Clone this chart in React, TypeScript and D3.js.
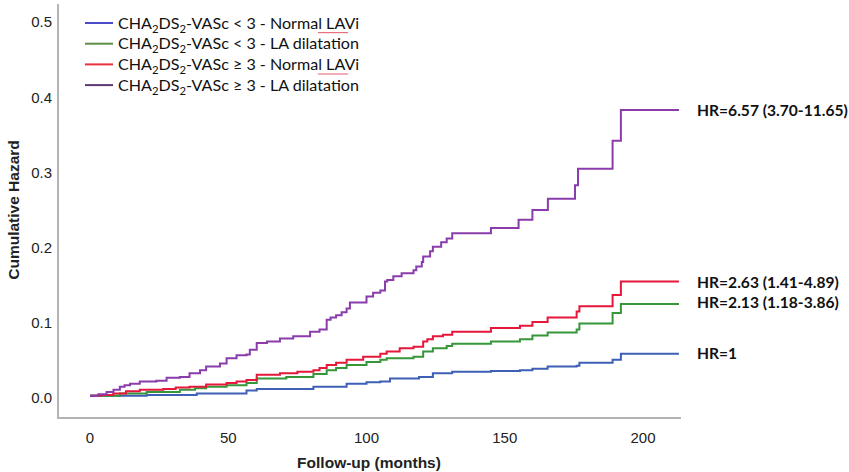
import React from "react";
import * as d3 from "d3";

type Pt = [number, number];

const xTicks = [0, 50, 100, 150, 200];
const yTicks = [0, 0.1, 0.2, 0.3, 0.4, 0.5];

// [month, cumulative hazard] step points
const lowNormal: Pt[] = [
  [0, 0.003], [20.5, 0.004], [38.6, 0.006], [56.6, 0.01], [60.3, 0.012], [80.8, 0.015],
  [92.8, 0.019], [100, 0.021], [105, 0.022], [108.5, 0.026], [119, 0.028], [124, 0.033],
  [131, 0.035], [145, 0.036], [155.5, 0.037], [160, 0.039], [165.5, 0.042], [176, 0.043],
  [177, 0.047], [189, 0.051], [192, 0.059], [213, 0.059],
];
const lowDilat: Pt[] = [
  [0, 0.003], [10.8, 0.006], [20.5, 0.008], [32.5, 0.011], [38, 0.013], [42, 0.015],
  [49.4, 0.017], [56.6, 0.02], [60.3, 0.026], [71, 0.028], [80.8, 0.032], [85.6, 0.037],
  [89, 0.04], [92.8, 0.044], [100, 0.048], [105, 0.051], [107.3, 0.053], [117, 0.055],
  [120.5, 0.062], [124, 0.066], [129, 0.069], [131, 0.072], [145, 0.075], [155.5, 0.078],
  [160, 0.083], [165.5, 0.087], [176, 0.091], [177, 0.099], [189, 0.113], [192, 0.125],
  [213, 0.125],
];
const highNormal: Pt[] = [
  [0, 0.003], [4, 0.004], [8.4, 0.006], [13, 0.009], [18, 0.011], [26.5, 0.012], [31, 0.014],
  [36, 0.015], [42, 0.018], [49.4, 0.02], [53, 0.022], [56.6, 0.024], [60.3, 0.031],
  [68.7, 0.033], [75, 0.035], [80.8, 0.037], [83, 0.04], [85.6, 0.044], [89, 0.047],
  [92.8, 0.051], [98.8, 0.055], [105, 0.059], [107.3, 0.062], [112, 0.066], [117, 0.068],
  [120.5, 0.075], [122, 0.078], [124, 0.082], [127.7, 0.084], [131, 0.088], [145, 0.093],
  [155.5, 0.096], [160, 0.101], [165.5, 0.107], [176, 0.115], [177, 0.122], [189, 0.137],
  [192, 0.155], [213, 0.155],
];
const highDilat: Pt[] = [
  [0, 0.003], [3, 0.005], [6, 0.008], [8.5, 0.011], [10.8, 0.015], [12.5, 0.017], [14.5, 0.019],
  [18, 0.022], [24, 0.023], [27.7, 0.027], [32.5, 0.028], [36, 0.033], [39.8, 0.037],
  [42, 0.042], [47, 0.046], [49.4, 0.053], [53, 0.057], [56.6, 0.058], [57.8, 0.064],
  [60.3, 0.073], [64, 0.075], [68.7, 0.079], [73.5, 0.082], [79.6, 0.088], [83, 0.091],
  [85.6, 0.104], [87, 0.107], [89, 0.11], [91, 0.114], [92.8, 0.119], [94, 0.127],
  [100, 0.135], [102.4, 0.14], [105, 0.143], [106.7, 0.155], [107.5, 0.157], [109.7, 0.162],
  [112.7, 0.166], [117, 0.17], [118, 0.175], [120, 0.181], [120.5, 0.188], [123, 0.195],
  [124, 0.201], [127, 0.207], [129, 0.212], [131, 0.219], [145, 0.226], [155, 0.237],
  [160, 0.25], [165.6, 0.265], [175.4, 0.283], [176.5, 0.305], [189, 0.342], [192, 0.383],
  [213, 0.383],
];

const seriesNames = ["lowNormal", "lowDilat", "highNormal", "highDilat"];
const seriesData = [lowNormal, lowDilat, highNormal, highDilat];
const lineColors = ["#3d5fb5", "#35963a", "#e5173a", "#8a3cab"];
const legendColors = ["#4b4bc8", "#5e8e46", "#e8323c", "#5b3b70"];
const legendOp = ["<", "<", "≥", "≥"];
const legendGroup = ["Normal LAVi", "LA dilatation", "Normal LAVi", "LA dilatation"];
const hrLabels = ["HR=1", "HR=2.13 (1.18-3.86)", "HR=2.63 (1.41-4.89)", "HR=6.57 (3.70-11.65)"];
const hrLabelY = [353, 302, 282, 110];

const W = 849;
const H = 472;

export default function App() {
  const x = d3.scaleLinear().domain([0, 200]).range([90, 643]);
  const y = d3.scaleLinear().domain([0, 0.5]).range([398, 22]);
  const line = d3
    .line<Pt>()
    .x((d) => x(d[0]))
    .y((d) => y(d[1]))
    .curve(d3.curveStepAfter);

  const axisColor = "#b4b4b4";
  const tickFont = "'Liberation Sans', Arial, sans-serif";
  const legFont = "Lato, 'Open Sans', sans-serif";

  const wavy = (x0: number, x1: number, yy: number) => {
    let p = `M${x0},${yy}`;
    for (let xx = x0; xx < x1; xx += 2) {
      p += ` L${xx + 1},${yy + 1.2} L${xx + 2},${yy}`;
    }
    return p;
  };

  return (
    <div style={{ position: "absolute", left: 0, top: 0 }}>
      <svg width={W} height={H} style={{ display: "block", background: "#fff" }}>
        {/* axes */}
        <line x1={58} x2={58} y1={4} y2={418} stroke={axisColor} strokeWidth={2} />
        <line x1={57} x2={681} y1={418} y2={418} stroke={axisColor} strokeWidth={2} />

        {yTicks.map((t) => (
          <text
            key={t}
            x={52}
            y={y(t)}
            dy="0.36em"
            textAnchor="end"
            fontFamily={tickFont}
            fontSize={15}
            fill="#222"
          >
            {t.toFixed(1)}
          </text>
        ))}
        {xTicks.map((t) => (
          <text
            key={t}
            x={x(t)}
            y={443}
            textAnchor="middle"
            fontFamily={tickFont}
            fontSize={15}
            fill="#222"
          >
            {t}
          </text>
        ))}
        <text
          x={369}
          y={468}
          textAnchor="middle"
          fontFamily={tickFont}
          fontSize={15.5}
          fontWeight="bold"
          fill="#222"
        >
          Follow-up (months)
        </text>
        <text
          transform={`translate(19,210) rotate(-90)`}
          textAnchor="middle"
          fontFamily={tickFont}
          fontSize={15.5}
          fontWeight="bold"
          fill="#222"
        >
          Cumulative Hazard
        </text>

        {/* curves */}
        {seriesData.map((d, i) => (
          <path
            key={seriesNames[i]}
            d={line(d) || ""}
            fill="none"
            stroke={lineColors[i]}
            strokeWidth={2}
          />
        ))}

        {/* HR labels */}
        {hrLabels.map((l, i) => (
          <text
            key={l}
            x={697}
            y={hrLabelY[i]}
            dy="0.36em"
            fontFamily={legFont}
            fontSize={15.6}
            fontWeight="bold"
            fill="#111"
          >
            {l}
          </text>
        ))}

        {/* legend */}
        {legendOp.map((op, i) => {
          const yy = 23 + i * 20.7;
          return (
            <g key={i}>
              <line x1={85} x2={113} y1={yy} y2={yy} stroke={legendColors[i]} strokeWidth={2} />
              <text x={118} y={yy} dy="0.36em" fontFamily={legFont} fontSize={16.1} fill="#111">
                CHA
                <tspan fontSize={11.3} dy={4}>2</tspan>
                <tspan dy={-4}>DS</tspan>
                <tspan fontSize={11.3} dy={4}>2</tspan>
                <tspan dy={-4}>{`-VASc ${op} 3 - ${legendGroup[i]}`}</tspan>
              </text>
              {legendGroup[i] === "Normal LAVi" && (
                <path d={wavy(318, 348, yy + 9)} fill="none" stroke="#e04050" strokeWidth={0.8} />
              )}
            </g>
          );
        })}
      </svg>
    </div>
  );
}
